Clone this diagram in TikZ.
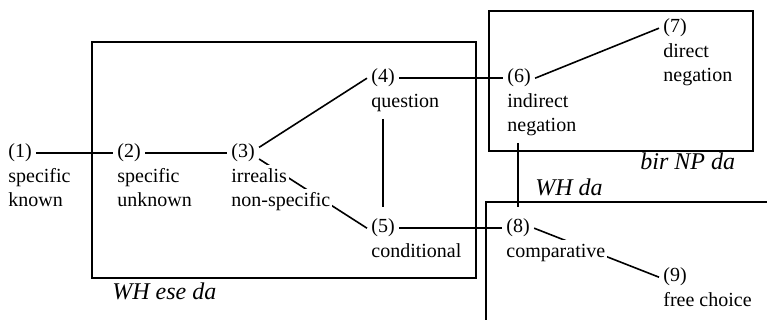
\documentclass[tikz,border=0pt]{standalone}
\usepackage{fontspec}
\setmainfont{Liberation Serif}
\usetikzlibrary{backgrounds}

% white box behind one line of a label, so that a link may run under it
\newcommand{\wl}[1]{\kern-1pt\colorbox{white}{\kern1pt\strut#1\kern1pt}}

\tikzset{
  num/.style={anchor=base west, xshift=-2pt, inner sep=2pt},
  lbl/.style={anchor=north west, inner sep=0pt, align=left},
  region/.style={anchor=base west, inner sep=0pt, font=\fontsize{12}{14}\selectfont\itshape},
  link/.style={line width=0.8pt},
}

\begin{document}
\begin{tikzpicture}[x=0.5pt, y=-0.5pt, font=\fontsize{10}{12}\selectfont]
    \setlength{\fboxsep}{0pt}
    \useasboundingbox (0,0) rectangle (767,320);

    % regions
    \draw[line width=0.8pt] (92,42) rectangle (476,278);
    \node[region] (wheseda) at (112,300) {WH ese da};
    \draw[line width=0.8pt] (489,11) rectangle (753,151);
    \node[region] (birnpda) at (640,170) {bir NP da};
    \draw[line width=0.8pt] (767,202) -- (486,202) -- (486,320);
    \node[region] (whda) at (535,196) {WH da};

    % uses
    \node[num] (n1) at (8,158) {(1)};
    \node[lbl] (t1) at (8,165) {\wl{specific}\\\wl{known}};
    \node[num] (n2) at (117,158) {(2)};
    \node[lbl] (t2) at (117,165) {\wl{specific}\\\wl{unknown}};
    \node[num] (n3) at (231,158) {(3)};
    \node[lbl] (t3) at (231,165) {\wl{irrealis}\\\wl{non-specific}};
    \node[num] (n4) at (371,83) {(4)};
    \node[lbl] (t4) at (371,90) {\wl{question}};
    \node[num] (n5) at (371,233) {(5)};
    \node[lbl] (t5) at (371,240) {\wl{conditional}};
    \node[num] (n6) at (507,83) {(6)};
    \node[lbl] (t6) at (507,90) {\wl{indirect}\\\wl{negation}};
    \node[num] (n7) at (663,33) {(7)};
    \node[lbl] (t7) at (663,40) {\wl{direct}\\\wl{negation}};
    \node[num] (n8) at (506,233) {(8)};
    \node[lbl] (t8) at (506,240) {\wl{comparative}};
    \node[num] (n9) at (663,282) {(9)};
    \node[lbl] (t9) at (663,289) {\wl{free choice}};

    % links
    \begin{pgfonlayer}{background}
    \draw[link] (n1) -- (n2);
    \draw[link] (n2) -- (n3);
    \draw[link] (n3.20) -- (n4.west);
    \draw[link] (n3.-20) -- (n5.west);
    \draw[link, shorten <=2pt, shorten >=4pt] (t4.south -| n5) -- (n5.north);
    \draw[link] (n4) -- (n6);
    \draw[link] (n5) -- (n8);
    \draw[link] (n6.east) -- (n7.west);
    \draw[link, shorten <=2pt, shorten >=4pt] (t6.south -| n8) -- (n8.north);
    \draw[link] (n8.east) -- (n9.west);
    \end{pgfonlayer}

\end{tikzpicture}
\end{document}
